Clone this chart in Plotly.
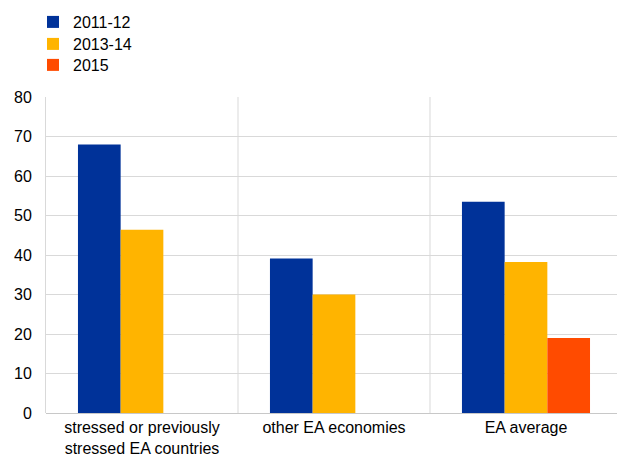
import plotly.graph_objects as go

categories = ["stressed or previously<br>stressed EA countries", "other EA economies", "EA average"]
series_names = ["2011-12", "2013-14", "2015"]
v_2011_12 = [68.0, 39.1, 53.5]
v_2013_14 = [46.4, 30.0, 38.2]
v_2015 = [None, None, 19.0]
colors = ["#003299", "#FFB400", "#FF4B00"]
y_ticks = [0, 10, 20, 30, 40, 50, 60, 70, 80]

legend_ids = ["legend", "legend2", "legend3"]
legend_y = [1.2911, 1.2215, 1.1551]

fig = go.Figure()
for name, vals, c, lid in zip(series_names, [v_2011_12, v_2013_14, v_2015], colors, legend_ids):
    fig.add_trace(go.Bar(name=name, x=categories, y=vals, legend=lid,
                         marker=dict(color=c, line=dict(width=0))))

for xv in [0.5, 1.5]:
    fig.add_shape(type="line", xref="x", yref="y", x0=xv, x1=xv, y0=0, y1=80,
                  line=dict(color="#d9d9d9", width=1), layer="below")

legend_style = dict(x=-0.0228, xanchor="left", yanchor="top", bgcolor="rgba(0,0,0,0)",
                    font=dict(size=16), itemwidth=30)

fig.update_layout(
    width=617, height=456,
    margin=dict(l=46, r=0, t=97, b=43, autoexpand=False),
    paper_bgcolor="white", plot_bgcolor="white",
    font=dict(family="Liberation Sans, Arial, sans-serif", size=16, color="#000000"),
    barmode="group", bargap=0.333, bargroupgap=0,
    showlegend=True,
    legend=dict(y=legend_y[0], **legend_style),
    legend2=dict(y=legend_y[1], **legend_style),
    legend3=dict(y=legend_y[2], **legend_style),
    xaxis=dict(type="category", range=[-0.5, 2.474], showgrid=False, showline=False,
               ticks="", zeroline=False, automargin=False, ticklabelstandoff=3),
    yaxis=dict(range=[0, 80], tickvals=y_ticks, showgrid=True, gridcolor="#d9d9d9",
               gridwidth=1, zeroline=True, zerolinecolor="#c8c8c8", zerolinewidth=1,
               ticks="", showline=True, linecolor="#d9d9d9", linewidth=1,
               ticklabelstandoff=10, automargin=False),
)

fig.write_html("out.html", config={"displayModeBar": False},
               post_script="document.body.style.margin='0';document.body.style.overflow='hidden';")
